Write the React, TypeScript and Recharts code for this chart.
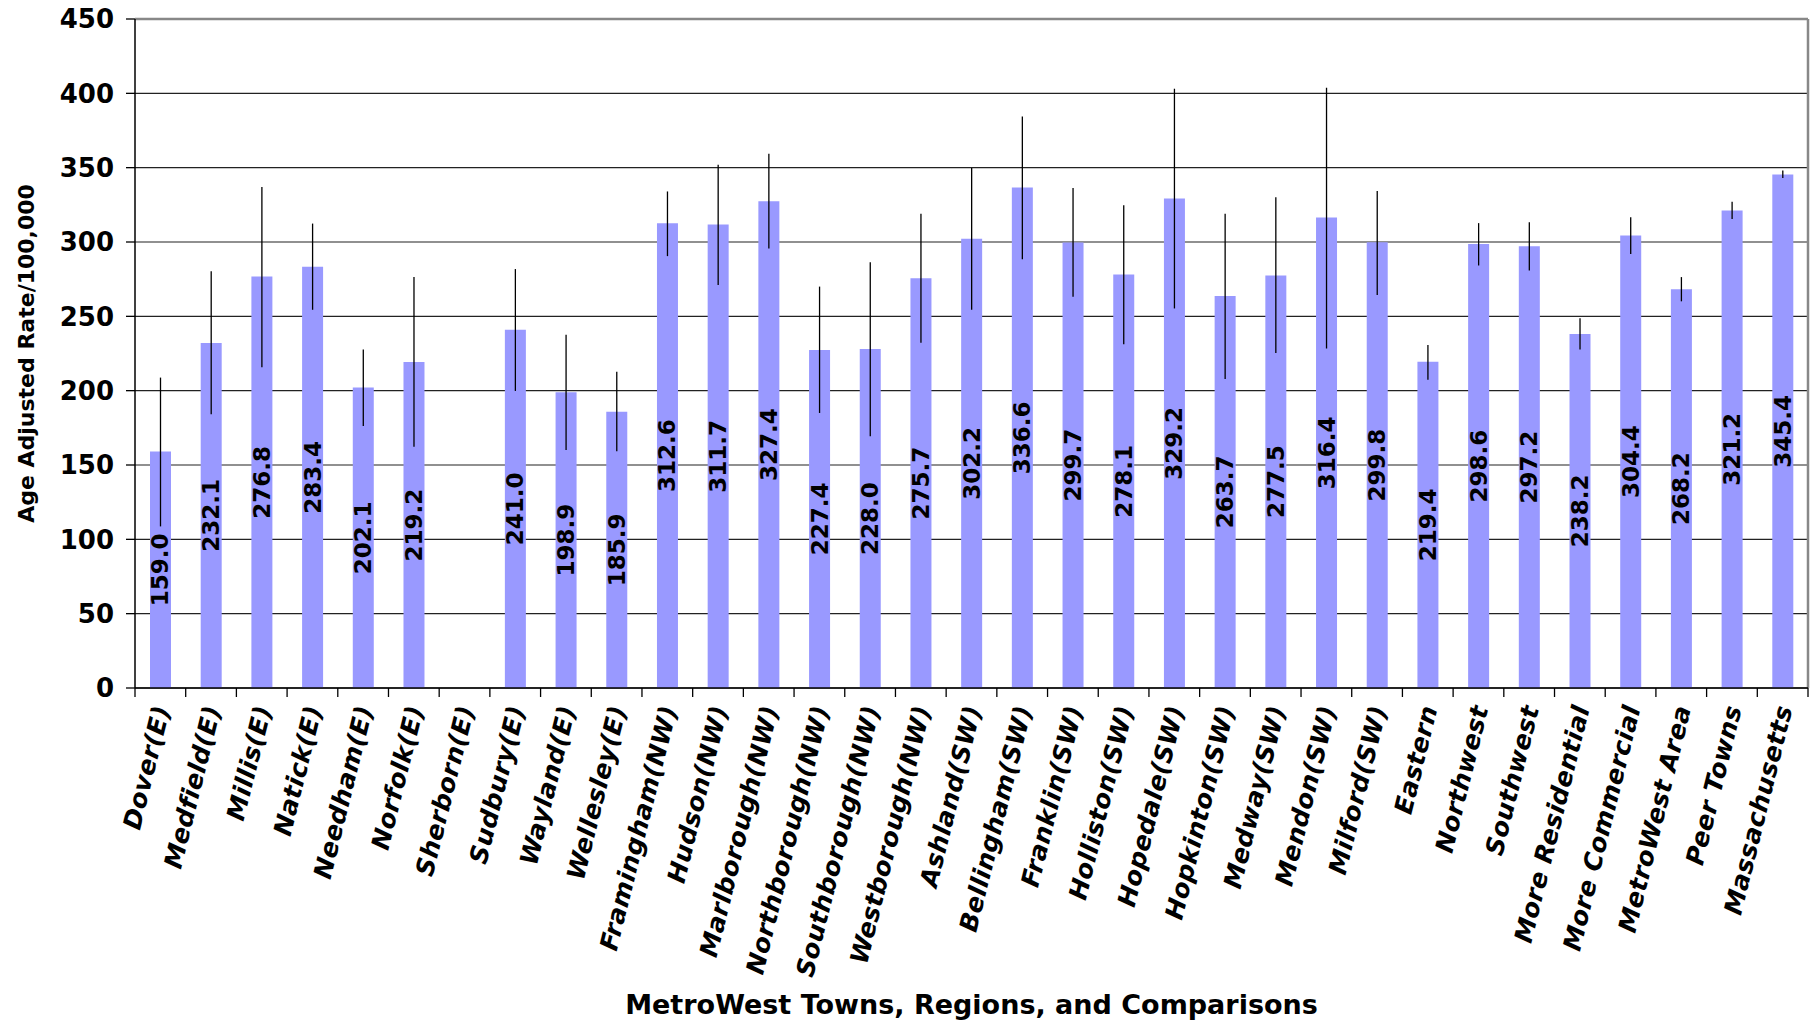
import {
  BarChart,
  Bar,
  XAxis,
  YAxis,
  CartesianGrid,
  ErrorBar,
  LabelList,
  ReferenceLine,
} from 'recharts';

const categories = [
  'Dover(E)', 'Medfield(E)', 'Millis(E)', 'Natick(E)', 'Needham(E)', 'Norfolk(E)',
  'Sherborn(E)', 'Sudbury(E)', 'Wayland(E)', 'Wellesley(E)', 'Framingham(NW)',
  'Hudson(NW)', 'Marlborough(NW)', 'Northborough(NW)', 'Southborough(NW)',
  'Westborough(NW)', 'Ashland(SW)', 'Bellingham(SW)', 'Franklin(SW)', 'Holliston(SW)',
  'Hopedale(SW)', 'Hopkinton(SW)', 'Medway(SW)', 'Mendon(SW)', 'Milford(SW)',
  'Eastern', 'Northwest', 'Southwest', 'More Residential', 'More Commercial',
  'MetroWest Area', 'Peer Towns', 'Massachusetts',
];

const rates = [
  159.0, 232.1, 276.8, 283.4, 202.1, 219.2, null, 241.0, 198.9, 185.9, 312.6,
  311.7, 327.4, 227.4, 228.0, 275.7, 302.2, 336.6, 299.7, 278.1, 329.2, 263.7,
  277.5, 316.4, 299.8, 219.4, 298.6, 297.2, 238.2, 304.4, 268.2, 321.2, 345.4,
];

// 95% confidence limits
const lowerCI = [
  108.7, 184.1, 215.7, 254.4, 176.3, 162.2, null, 199.8, 160.1, 159.2, 290.5,
  271.0, 295.6, 185.0, 169.4, 232.2, 254.4, 288.4, 263.1, 231.3, 255.3, 207.9,
  225.3, 228.3, 264.3, 207.3, 284.2, 280.9, 227.7, 292.0, 260.1, 315.4, 343.0,
];
const upperCI = [
  208.8, 280.3, 337.0, 312.4, 227.7, 276.4, null, 281.8, 237.6, 212.7, 334.0,
  352.0, 359.3, 270.0, 286.3, 319.0, 349.7, 384.5, 336.4, 324.7, 403.1, 319.0,
  330.1, 403.7, 334.3, 230.7, 312.7, 313.3, 248.7, 316.6, 276.4, 327.1, 348.1,
];

const yTicks = [0, 50, 100, 150, 200, 250, 300, 350, 400, 450];

const data = categories.map((name, i) => {
  const v = rates[i];
  const lo = lowerCI[i];
  const hi = upperCI[i];
  return {
    name,
    value: v,
    err: v != null && lo != null && hi != null ? [v - lo, hi - v] : [0, 0],
  };
});

const W = 1812;
const H = 1022;
const Y_AXIS_W = 135;
const MARGIN = { top: 19, right: 4, bottom: 0, left: 0 };
const X_AXIS_H = 334;
const PLOT_W = W - Y_AXIS_W - MARGIN.right;
const AXIS_Y = H - X_AXIS_H;
const BAND = PLOT_W / categories.length;
const FONT = '"DejaVu Sans", Verdana, sans-serif';

function CategoryTick(props: any) {
  const { x, payload, index } = props;
  const left = x - BAND / 2;
  return (
    <g>
      <line x1={left} y1={AXIS_Y} x2={left} y2={AXIS_Y + 9} stroke="#000" strokeWidth={1.3} />
      {index === categories.length - 1 && (
        <line x1={x + BAND / 2} y1={AXIS_Y} x2={x + BAND / 2} y2={AXIS_Y + 9} stroke="#000" strokeWidth={1.3} />
      )}
      <text
        x={x + 10}
        y={AXIS_Y + 20}
        transform={`rotate(-76, ${x + 10}, ${AXIS_Y + 20})`}
        textAnchor="end"
        fontFamily={FONT}
        fontWeight="bold"
        fontStyle="italic"
        fontSize={25}
        letterSpacing={0.4}
        fill="#000"
      >
        {payload.value}
      </text>
    </g>
  );
}

function ValueLabel(props: any) {
  const { x, y, width, height, value } = props;
  if (value == null) return null;
  const cx = x + width / 2;
  const cy = y + height / 2;
  return (
    <text
      x={cx}
      y={cy}
      transform={`rotate(-90, ${cx}, ${cy})`}
      textAnchor="middle"
      dominantBaseline="central"
      fontFamily={FONT}
      fontWeight="bold"
      fontSize={23}
      fill="#000"
    >
      {Number(value).toFixed(1)}
    </text>
  );
}

export default function App() {
  return (
    <div style={{ position: 'absolute', left: 0, top: 0, width: W, height: H, background: '#fff' }}>
      <BarChart width={W} height={H} data={data} margin={MARGIN} barSize={21}>
        <CartesianGrid horizontal vertical={false} stroke="#222" strokeWidth={1.2} />
        <XAxis
          dataKey="name"
          interval={0}
          height={X_AXIS_H}
          axisLine={{ stroke: '#000', strokeWidth: 1.5 }}
          tickLine={false}
          tick={<CategoryTick />}
          label={{
            value: 'MetroWest Towns, Regions, and Comparisons',
            position: 'insideBottom',
            offset: 8,
            style: { fontFamily: FONT, fontWeight: 'bold', fontSize: 27, fill: '#000' },
          }}
        />
        <YAxis
          width={Y_AXIS_W}
          domain={[0, 450]}
          ticks={yTicks}
          interval={0}
          axisLine={{ stroke: '#000', strokeWidth: 1.5 }}
          tickLine={{ stroke: '#000', strokeWidth: 1.3 }}
          tickSize={9}
          tickMargin={12}
          tick={{ fontFamily: FONT, fontWeight: 'bold', fontSize: 26, fill: '#000' }}
          label={{
            value: 'Age Adjusted Rate/100,000',
            angle: -90,
            position: 'insideLeft',
            offset: 26,
            style: { textAnchor: 'middle', fontFamily: FONT, fontWeight: 'bold', fontSize: 22, fill: '#000' },
          }}
        />
        <ReferenceLine y={450} stroke="#888" strokeWidth={2.5} />
        <ReferenceLine x="Massachusetts" position="end" stroke="#888" strokeWidth={2.5} />
        <Bar dataKey="value" fill="#9999FF" isAnimationActive={false}>
          <ErrorBar dataKey="err" direction="y" width={0} stroke="#000" strokeWidth={1.3} />
          <LabelList dataKey="value" content={<ValueLabel />} />
        </Bar>
      </BarChart>
    </div>
  );
}
